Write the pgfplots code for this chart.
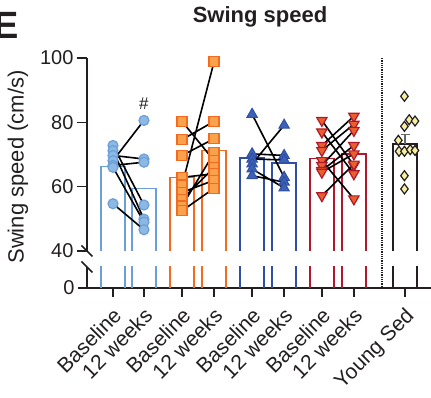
\documentclass[border=0pt]{standalone}
\usepackage{fontspec}
\setmainfont{Liberation Sans}
\usepackage{pgfplots}
\pgfplotsset{compat=1.18}
\usetikzlibrary{calc}
\definecolor{axc}{HTML}{231F20}
\definecolor{bluE}{HTML}{6A9FD8}
\definecolor{bluF}{HTML}{8DB8E4}
\definecolor{orE}{HTML}{F26B21}
\definecolor{orF}{HTML}{F9A24B}
\definecolor{navE}{HTML}{2E4FA3}
\definecolor{navF}{HTML}{3C62B8}
\definecolor{redE}{HTML}{B2182B}
\definecolor{redF}{HTML}{E8612C}
\definecolor{yelF}{HTML}{F7F0A0}
\begin{document}
\begin{tikzpicture}
\pgfplotsset{
  common/.style={
    scale only axis, width=344pt, xmin=0, xmax=10.75,
    tick align=outside, major tick length=10pt,
    axis line style={line width=1.6pt, color=axc},
    every tick/.style={line width=1.6pt, color=axc},
    tick label style={font=\fontsize{20}{24}\selectfont, color=axc},
    /pgf/number format/assume math mode=true,
  },
  barst/.style={line width=1.5pt, no markers, sharp plot, unbounded coords=jump},
}
% ---------- upper segment ----------
\begin{axis}[common, name=up, at={(87pt,147pt)}, anchor=south west,
  height=193pt, ymin=40, ymax=100, hide x axis, axis y line*=left,
  ytick={40,60,80,100}]
% bars (open at the bottom: the axis is broken below 40)
\addplot[barst, draw=bluE] coordinates {(0.4375,30) (0.4375,66.25) (1.1875,66.25) (1.1875,30) (0,nan)
  (1.405,30) (1.405,59.4) (2.155,59.4) (2.155,30)};
\addplot[barst, draw=orE] coordinates {(2.595,30) (2.595,62.9) (3.345,62.9) (3.345,30) (0,nan)
  (3.595,30) (3.595,71.25) (4.345,71.25) (4.345,30)};
\addplot[barst, draw=navE] coordinates {(4.785,30) (4.785,68.9) (5.535,68.9) (5.535,30) (0,nan)
  (5.785,30) (5.785,67.4) (6.535,67.4) (6.535,30)};
\addplot[barst, draw=redE] coordinates {(6.965,30) (6.965,68.75) (7.715,68.75) (7.715,30) (0,nan)
  (7.965,30) (7.965,70.1) (8.715,70.1) (8.715,30)};
\addplot[barst, draw=axc] coordinates {(9.565,30) (9.565,73.2) (10.315,73.2) (10.315,30)};
\addplot[draw=none, mark=none, forget plot,
  error bars/.cd, y dir=plus, y explicit,
  error bar style={line width=1.5pt, color=gray!80!black},
  error mark options={rotate=90, mark size=4.5pt, line width=1.5pt, color=gray!80!black}]
  coordinates {(9.94,73.2) +- (0,3.0)};
% markers
\addplot[only marks, mark=*, mark size=5pt, mark options={fill=bluF, draw=bluE, line width=1.2pt}]
  coordinates {(0.8125,72.8) (0.8125,71.2) (0.8125,69.7) (0.8125,68.1) (0.8125,66.6) (0.8125,66.0) (0.8125,54.7)
  (1.78,54.3) (1.78,49.9) (1.78,68.6) (1.78,80.6) (1.78,67.6) (1.78,49.0) (1.78,46.6)};
\addplot[only marks, mark=square*, mark size=5pt, mark options={fill=orF, draw=orE, line width=1.2pt}]
  coordinates {(2.97,80.3) (2.97,74.6) (2.97,69.7) (2.97,62.9) (2.97,60.5) (2.97,58.2) (2.97,56.0) (2.97,54.0) (2.97,52.5)
  (3.97,98.8) (3.97,80.3) (3.97,74.9) (3.97,70.5) (3.97,68.1) (3.97,66.0) (3.97,64.0) (3.97,62.0) (3.97,59.5)};
\addplot[only marks, mark=triangle*, mark size=6pt, mark options={fill=navF, draw=navE, line width=1.0pt}]
  coordinates {(5.16,82.5) (5.16,70.2) (5.16,68.6) (5.16,67.1) (5.16,65.5) (5.16,63.4)
  (6.16,79.1) (6.16,69.7) (6.16,68.3) (6.16,62.9) (6.16,61.4) (6.16,59.6)};
\addplot[only marks, mark=triangle*, mark size=6pt, mark options={rotate=180, fill=redF, draw=redE, line width=1.2pt}]
  coordinates {(7.34,80.6) (7.34,77.0) (7.34,72.8) (7.34,71.25) (7.34,68.1) (7.34,66.6) (7.34,65.0) (7.34,64.5) (7.34,57.2)
  (8.34,81.9) (8.34,79.4) (8.34,77.5) (8.34,72.8) (8.34,70.2) (8.34,66.6) (8.34,64.0) (8.34,67.0) (8.34,56.2)};
\addplot[only marks, mark=diamond*, mark size=5pt, mark options={fill=yelF, draw=axc, line width=1.2pt}]
  coordinates {(9.92,88.1) (10.07,80.8) (10.25,80.4) (9.92,78.75) (9.73,74.4) (9.75,71.0) (9.92,71.0) (10.1,71.5) (10.25,71.25) (9.92,63.4) (9.92,59.3)};
% paired lines
\addplot[black, line width=1.6pt, no markers, unbounded coords=jump] coordinates {
  (0.8125,72.8) (1.78,54.3) (0,nan)
  (0.8125,71.2) (1.78,49.9) (0,nan)
  (0.8125,69.7) (1.78,68.6) (0,nan)
  (0.8125,68.1) (1.78,80.6) (0,nan)
  (0.8125,66.6) (1.78,67.6) (0,nan)
  (0.8125,66.0) (1.78,49.0) (0,nan)
  (0.8125,54.7) (1.78,46.6) (0,nan)
  (2.97,80.3) (3.97,68.1) (0,nan)
  (2.97,74.6) (3.97,80.3) (0,nan)
  (2.97,69.7) (3.97,74.9) (0,nan)
  (2.97,62.9) (3.97,64.0) (0,nan)
  (2.97,60.5) (3.97,98.8) (0,nan)
  (2.97,58.2) (3.97,62.0) (0,nan)
  (2.97,56.0) (3.97,66.0) (0,nan)
  (2.97,54.0) (3.97,70.5) (0,nan)
  (2.97,52.5) (3.97,59.5) (0,nan)
  (5.16,82.5) (6.16,62.9) (0,nan)
  (5.16,67.1) (6.16,79.1) (0,nan)
  (5.16,70.2) (6.16,69.7) (0,nan)
  (5.16,68.6) (6.16,68.3) (0,nan)
  (5.16,65.5) (6.16,59.6) (0,nan)
  (5.16,63.4) (6.16,61.4) (0,nan)
  (7.34,80.6) (8.34,66.6) (0,nan)
  (7.34,77.0) (8.34,64.0) (0,nan)
  (7.34,72.8) (8.34,81.9) (0,nan)
  (7.34,71.25) (8.34,79.4) (0,nan)
  (7.34,68.1) (8.34,56.2) (0,nan)
  (7.34,66.6) (8.34,77.5) (0,nan)
  (7.34,65.0) (8.34,72.8) (0,nan)
  (7.34,64.5) (8.34,70.2) (0,nan)
  (7.34,57.2) (8.34,67.0)
};
\coordinate (hashpt) at (axis cs:1.78,80.6);
\coordinate (dtop) at (axis cs:9.22,100);
\coordinate (brk1) at (axis cs:0,40);
\end{axis}
% ---------- lower segment ----------
\begin{axis}[common, name=low, at={(87pt,110pt)}, anchor=south west,
  height=21pt, ymin=0, ymax=6.5625, axis x line*=bottom, axis y line*=left,
  ytick={0}, major tick length=9pt,
  xtick={0.8125,1.78,2.97,3.97,5.16,6.16,7.34,8.34,9.94},
  xticklabels={Baseline,12 weeks,Baseline,12 weeks,Baseline,12 weeks,Baseline,12 weeks,Young Sed},
  xticklabel style={font=\fontsize{21}{25}\selectfont, xshift=-1pt, yshift=-8pt, rotate=45, anchor=north east, inner sep=1pt}]
\addplot[barst, draw=bluE] coordinates {(0.4375,0) (0.4375,20) (0,nan) (1.1875,0) (1.1875,20) (0,nan)
  (1.405,0) (1.405,20) (0,nan) (2.155,0) (2.155,20)};
\addplot[barst, draw=orE] coordinates {(2.595,0) (2.595,20) (0,nan) (3.345,0) (3.345,20) (0,nan)
  (3.595,0) (3.595,20) (0,nan) (4.345,0) (4.345,20)};
\addplot[barst, draw=navE] coordinates {(4.785,0) (4.785,20) (0,nan) (5.535,0) (5.535,20) (0,nan)
  (5.785,0) (5.785,20) (0,nan) (6.535,0) (6.535,20)};
\addplot[barst, draw=redE] coordinates {(6.965,0) (6.965,20) (0,nan) (7.715,0) (7.715,20) (0,nan)
  (7.965,0) (7.965,20) (0,nan) (8.715,0) (8.715,20)};
\addplot[barst, draw=axc] coordinates {(9.565,0) (9.565,20) (0,nan) (10.315,0) (10.315,20)};
\coordinate (dbot) at (axis cs:9.22,0);
\coordinate (brk2) at (axis cs:0,6.5625);
\end{axis}
\draw[densely dotted, line width=1.3pt, color=axc] (dtop) -- (dbot);
\draw[line width=1.6pt, color=axc] ($(brk1)+(-5.5pt,5.5pt)$) -- ($(brk1)+(5.5pt,-5.5pt)$);
\draw[line width=1.6pt, color=axc] ($(brk2)+(-5.5pt,5.5pt)$) -- ($(brk2)+(5.5pt,-5.5pt)$);
\node[font=\fontsize{17}{20}\selectfont, color=axc] at ($(hashpt)+(0,16.5pt)$) {\#};
\node[font=\bfseries\fontsize{22}{26}\selectfont, color=axc] at (260pt,381pt) {Swing speed};
\node[font=\bfseries\fontsize{38}{44}\selectfont, color=axc, anchor=base east, inner sep=0pt] at (19pt,359pt) {E};
\node[font=\fontsize{22}{26}\selectfont, color=axc, rotate=90] at (18pt,231pt) {Swing speed (cm/s)};
\pgfresetboundingbox
\path (0pt,0pt) rectangle (431pt,398pt);
\end{tikzpicture}
\end{document}
